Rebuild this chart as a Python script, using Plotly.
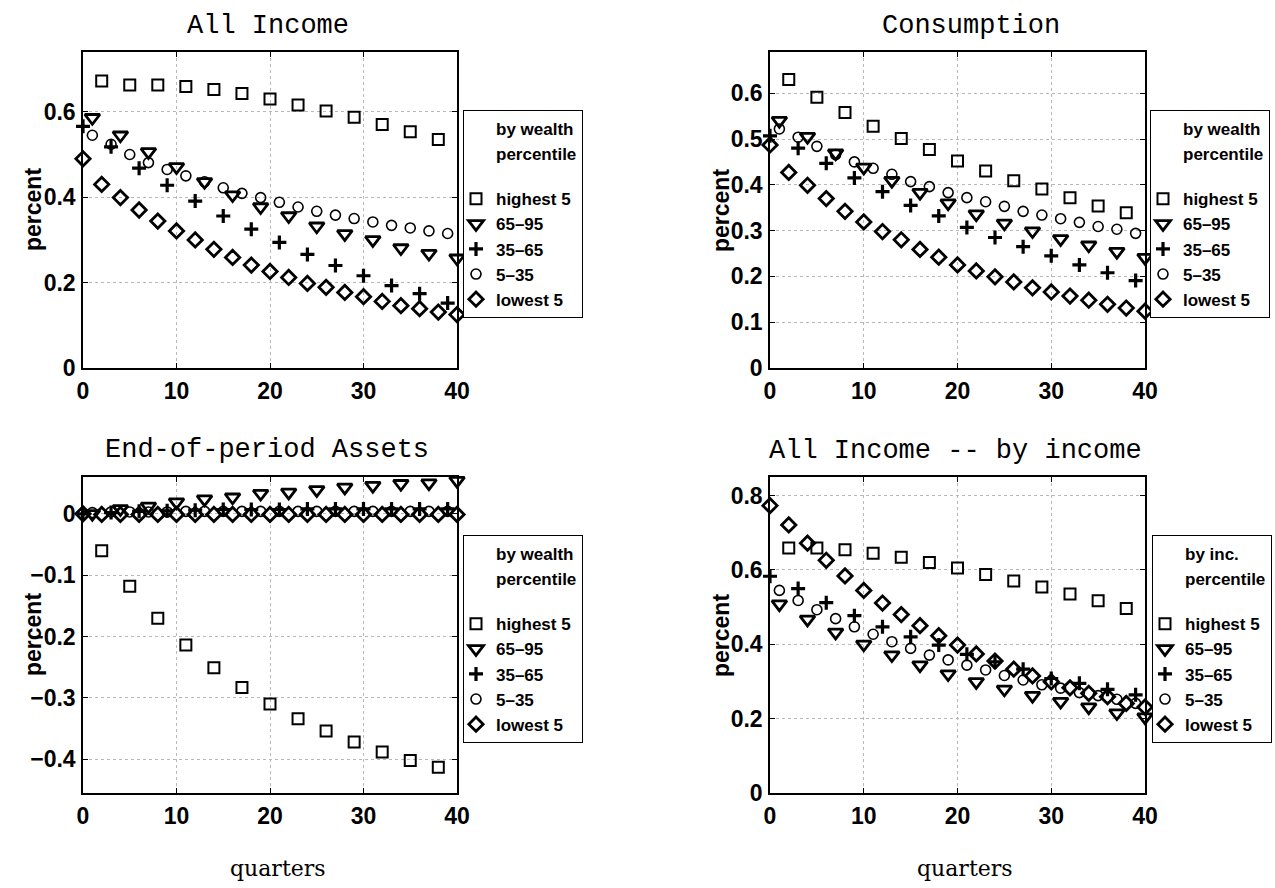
import plotly.graph_objects as go

# ---- quarter positions of each series ----
x_highest = [2, 5, 8, 11, 14, 17, 20, 23, 26, 29, 32, 35, 38]
x_mid_hi = [1, 4, 7, 10, 13, 16, 19, 22, 25, 28, 31, 34, 37, 40]
x_mid = [0, 3, 6, 9, 12, 15, 18, 21, 24, 27, 30, 33, 36, 39]
x_mid_lo = [1, 3, 5, 7, 9, 11, 13, 15, 17, 19, 21, 23, 25, 27, 29, 31, 33, 35, 37, 39]
x_lowest = [0, 2, 4, 6, 8, 10, 12, 14, 16, 18, 20, 22, 24, 26, 28, 30, 32, 34, 36, 38, 40]

series_names = ["highest 5", "65\u201395", "35\u201365", "5\u201335", "lowest 5"]

# ---- All Income (by wealth percentile) ----
inc_highest = [0.672, 0.663, 0.663, 0.659, 0.652, 0.643, 0.630, 0.616, 0.602, 0.587, 0.570, 0.553, 0.535]
inc_mid_hi = [0.586, 0.545, 0.506, 0.471, 0.436, 0.405, 0.377, 0.356, 0.332, 0.314, 0.300, 0.281, 0.268, 0.257]
inc_mid = [0.566, 0.518, 0.468, 0.428, 0.391, 0.356, 0.325, 0.294, 0.266, 0.240, 0.216, 0.193, 0.174, 0.152]
inc_mid_lo = [0.545, 0.524, 0.500, 0.481, 0.465, 0.450, 0.436, 0.422, 0.409, 0.399, 0.388, 0.377, 0.367,
              0.358, 0.350, 0.342, 0.334, 0.328, 0.321, 0.315]
inc_lowest = [0.490, 0.430, 0.399, 0.370, 0.344, 0.321, 0.300, 0.278, 0.259, 0.241, 0.226, 0.212, 0.198,
              0.189, 0.177, 0.167, 0.156, 0.146, 0.139, 0.131, 0.125]

# ---- Consumption ----
con_highest = [0.630, 0.591, 0.558, 0.528, 0.501, 0.477, 0.452, 0.430, 0.409, 0.391, 0.372, 0.354, 0.339]
con_mid_hi = [0.540, 0.505, 0.469, 0.438, 0.409, 0.383, 0.360, 0.336, 0.316, 0.299, 0.282, 0.268, 0.254, 0.241]
con_mid = [0.507, 0.480, 0.447, 0.415, 0.385, 0.355, 0.332, 0.307, 0.285, 0.265, 0.245, 0.225, 0.208, 0.191]
con_mid_lo = [0.522, 0.504, 0.484, 0.466, 0.450, 0.436, 0.423, 0.407, 0.396, 0.383, 0.372, 0.363, 0.353,
              0.342, 0.334, 0.326, 0.318, 0.309, 0.303, 0.294]
con_lowest = [0.487, 0.427, 0.399, 0.370, 0.342, 0.319, 0.298, 0.280, 0.259, 0.242, 0.225, 0.212, 0.199,
              0.188, 0.175, 0.166, 0.157, 0.148, 0.139, 0.131, 0.124]

# ---- End-of-period Assets ----
ast_highest = [-0.060, -0.118, -0.170, -0.214, -0.251, -0.283, -0.310, -0.334, -0.354, -0.372, -0.388, -0.402, -0.413]
ast_mid_hi = [0.000, 0.008, 0.012, 0.019, 0.024, 0.027, 0.033, 0.035, 0.039, 0.043, 0.046, 0.049, 0.050, 0.054]
ast_mid = [0.000, 0.002, 0.004, 0.005, 0.006, 0.007, 0.007, 0.007, 0.008, 0.008, 0.008, 0.008, 0.008, 0.008]
ast_mid_lo = [0.002, 0.003, 0.003, 0.003, 0.003, 0.004, 0.004, 0.004, 0.004, 0.004, 0.004, 0.004, 0.004,
              0.004, 0.004, 0.004, 0.004, 0.004, 0.004, 0.004]
ast_lowest = [0.000, -0.001, -0.001, -0.001, -0.001, -0.001, -0.001, -0.001, -0.001, -0.001, -0.001,
              -0.001, -0.001, -0.001, -0.001, -0.001, -0.001, -0.001, -0.001, -0.001, -0.001]

# ---- All Income (by income percentile) ----
byi_highest = [0.659, 0.659, 0.654, 0.645, 0.634, 0.620, 0.605, 0.588, 0.570, 0.554, 0.535, 0.517, 0.496]
byi_mid_hi = [0.508, 0.467, 0.432, 0.400, 0.371, 0.344, 0.320, 0.299, 0.279, 0.262, 0.246, 0.231, 0.215, 0.204]
byi_mid = [0.583, 0.550, 0.512, 0.477, 0.447, 0.420, 0.398, 0.373, 0.353, 0.333, 0.308, 0.295, 0.279, 0.264]
byi_mid_lo = [0.545, 0.518, 0.493, 0.469, 0.447, 0.427, 0.407, 0.389, 0.371, 0.358, 0.344, 0.331, 0.316,
              0.304, 0.291, 0.282, 0.270, 0.262, 0.252, 0.241]
byi_lowest = [0.773, 0.721, 0.672, 0.626, 0.584, 0.545, 0.511, 0.480, 0.450, 0.423, 0.398, 0.374, 0.355,
              0.333, 0.315, 0.299, 0.283, 0.268, 0.259, 0.241, 0.231]

# ---- axes ticks ----
x_ticks = [0, 10, 20, 30, 40]
x_ticktext = ["0", "10", "20", "30", "40"]
inc_yticks = [0, 0.2, 0.4, 0.6]
inc_yticktext = ["0", "0.2", "0.4", "0.6"]
con_yticks = [0, 0.1, 0.2, 0.3, 0.4, 0.5, 0.6]
con_yticktext = ["0", "0.1", "0.2", "0.3", "0.4", "0.5", "0.6"]
ast_yticks = [-0.4, -0.3, -0.2, -0.1, 0]
ast_yticktext = ["\u22120.4", "\u22120.3", "\u22120.2", "\u22120.1", "0"]
byi_yticks = [0, 0.2, 0.4, 0.6, 0.8]
byi_yticktext = ["0", "0.2", "0.4", "0.6", "0.8"]

W, H = 1275, 888


def px_x(v):
    return v / W


def px_y(v):
    return 1 - v / H


marker_styles = [
    dict(symbol="square-open", size=11, line=dict(width=2, color="black")),
    dict(symbol="triangle-down-open", size=13, line=dict(width=2.8, color="black")),
    dict(symbol="cross-thin-open", size=10, line=dict(width=3.2, color="black")),
    dict(symbol="circle-open", size=10, line=dict(width=1.6, color="black")),
    dict(symbol="diamond-open", size=11, line=dict(width=2.8, color="black")),
]

xs = [x_highest, x_mid_hi, x_mid, x_mid_lo, x_lowest]

panels = [
    dict(ax="", leg="legend", head=["by wealth", "percentile"],
         ys=[inc_highest, inc_mid_hi, inc_mid, inc_mid_lo, inc_lowest]),
    dict(ax="2", leg="legend2", head=["by wealth", "percentile"],
         ys=[con_highest, con_mid_hi, con_mid, con_mid_lo, con_lowest]),
    dict(ax="3", leg="legend3", head=["by wealth", "percentile"],
         ys=[ast_highest, ast_mid_hi, ast_mid, ast_mid_lo, ast_lowest]),
    dict(ax="4", leg="legend4", head=["by inc.", "percentile"],
         ys=[byi_highest, byi_mid_hi, byi_mid, byi_mid_lo, byi_lowest]),
]

fig = go.Figure()

for p in panels:
    xa, ya = "x" + p["ax"], "y" + p["ax"]
    # legend heading lines (no data)
    for head in p["head"]:
        fig.add_trace(go.Scatter(
            x=[None], y=[None], mode="markers", name=head, legend=p["leg"],
            legendgroup="head" + p["ax"],
            xaxis=xa, yaxis=ya, hoverinfo="skip",
            marker=dict(color="rgba(0,0,0,0)", size=1, line=dict(width=0)),
        ))
    for name, xv, yv, ms in zip(series_names, xs, p["ys"], marker_styles):
        fig.add_trace(go.Scatter(
            x=xv, y=yv, mode="markers", name=name, legend=p["leg"],
            legendgroup="series" + p["ax"],
            xaxis=xa, yaxis=ya, cliponaxis=False,
            marker=dict(color="black", **ms),
        ))

tick_font = dict(family="Liberation Sans", size=23, color="black", weight="bold")
common_axis = dict(
    showline=True, linecolor="black", linewidth=1.5, mirror="ticks",
    ticks="inside", ticklen=5, tickwidth=1, tickcolor="black",
    showgrid=True, gridcolor="#b8b8b8", gridwidth=1, griddash="dot",
    zeroline=False, tickfont=tick_font,
)

x_left = [px_x(83), px_x(457)]
x_right = [px_x(770), px_x(1145)]
y_top = [px_y(368), px_y(52)]
y_bot = [px_y(793), px_y(477)]

layout_axes = {}
specs = [
    ("", x_left, y_top, [0, 0.74], inc_yticks, inc_yticktext),
    ("2", x_right, y_top, [0, 0.69], con_yticks, con_yticktext),
    ("3", x_left, y_bot, [-0.455, 0.06], ast_yticks, ast_yticktext),
    ("4", x_right, y_bot, [0, 0.85], byi_yticks, byi_yticktext),
]
for suf, xd, yd, yr, yt, ytt in specs:
    layout_axes["xaxis" + suf] = dict(
        domain=xd, range=[0, 40], tickvals=x_ticks, ticktext=x_ticktext,
        anchor="y" + suf, ticklabelstandoff=2, **common_axis)
    layout_axes["yaxis" + suf] = dict(
        domain=yd, range=yr, tickvals=yt, ticktext=ytt,
        anchor="x" + suf, ticklabelstandoff=1, **common_axis)

legend_font = dict(family="Liberation Sans", size=17, color="black", weight="bold")
legend_pos = {"legend": (463, 110), "legend2": (1150, 110), "legend3": (463, 535), "legend4": (1152, 535)}
for key, (lx, ly) in legend_pos.items():
    layout_axes[key] = dict(
        x=px_x(lx), y=px_y(ly), xanchor="left", yanchor="top",
        bgcolor="white", bordercolor="black", borderwidth=1,
        font=legend_font, itemwidth=30, tracegroupgap=20, traceorder="grouped",
        indentation=-8,
    )

title_font = dict(family="Liberation Mono", size=27, color="black")
titles = [("All Income", 268, 26), ("Consumption", 971, 26),
          ("End-of-period Assets", 267, 450), ("All Income -- by income", 955, 451)]
annotations = []
for txt, tx, ty in titles:
    annotations.append(dict(text=txt, x=px_x(tx), y=px_y(ty), xref="paper", yref="paper",
                            showarrow=False, xanchor="center", yanchor="middle", font=title_font))
label_font = dict(family="Liberation Sans", size=23, color="black", weight="bold")
for lx, ly in [(33, 210), (721, 210), (33, 635), (721, 635)]:
    annotations.append(dict(text="percent", x=px_x(lx), y=px_y(ly), xref="paper", yref="paper",
                            showarrow=False, textangle=-90, xanchor="center", yanchor="middle",
                            font=label_font))
for qx in [278, 965]:
    annotations.append(dict(text="quarters", x=px_x(qx), y=px_y(868), xref="paper", yref="paper",
                            showarrow=False, xanchor="center", yanchor="middle",
                            font=dict(family="DejaVu Serif", size=22, color="black")))

fig.update_layout(
    width=W, height=H,
    margin=dict(l=0, r=0, t=0, b=0, autoexpand=False),
    paper_bgcolor="white", plot_bgcolor="white",
    annotations=annotations,
    **layout_axes,
)

fig.write_html("out.html", config={"displayModeBar": False})
